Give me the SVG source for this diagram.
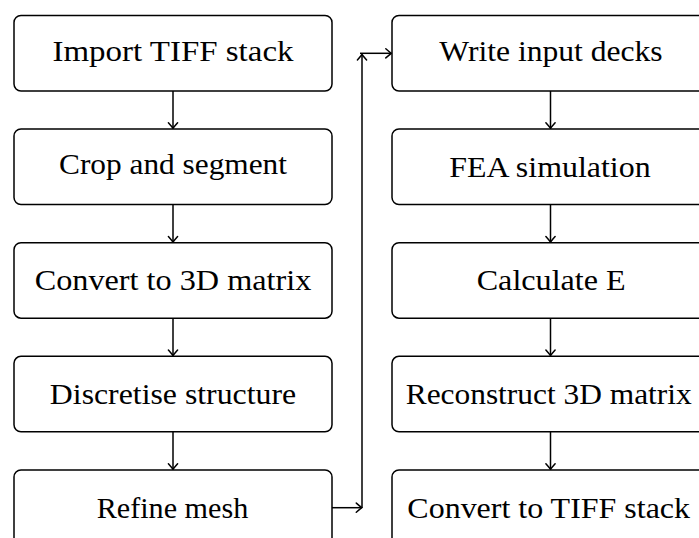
<svg xmlns="http://www.w3.org/2000/svg" width="699" height="538" viewBox="0 0 699 538">
<defs>
<style>
.box{fill:#fff;stroke:#000;stroke-width:1.5}
.lbl{font-size:30px;fill:#000;text-anchor:middle}
.edge{fill:none;stroke:#000;stroke-width:1.5}
</style>
<marker id="ah" viewBox="-7 -6 9 12" markerWidth="9" markerHeight="12" refX="0" refY="0" orient="auto" markerUnits="userSpaceOnUse">
<path d="M-5.5,-4.6 Q-1.6,-1.2 0,0 Q-1.6,1.2 -5.5,4.6" fill="none" stroke="#000" stroke-width="1.5" stroke-linecap="round"/>
</marker>
</defs>
<rect width="699" height="538" fill="#fff"/>
<g id="edges">
<path class="edge" d="M173,90.5V128.3" marker-end="url(#ah)"/>
<path class="edge" d="M173,204.5V242" marker-end="url(#ah)"/>
<path class="edge" d="M173,318V355.6" marker-end="url(#ah)"/>
<path class="edge" d="M173,432V469.3" marker-end="url(#ah)"/>
<path class="edge" d="M332,507.7H361.8" marker-end="url(#ah)"/>
<path class="edge" d="M362,507.7V54.5" marker-end="url(#ah)"/>
<path class="edge" d="M360,53.3H391.3" marker-end="url(#ah)"/>
<path class="edge" d="M550.5,90.5V128.3" marker-end="url(#ah)"/>
<path class="edge" d="M550.5,204.5V242" marker-end="url(#ah)"/>
<path class="edge" d="M550.5,318V355.6" marker-end="url(#ah)"/>
<path class="edge" d="M550.5,432V469.3" marker-end="url(#ah)"/>
</g>
<g font-family="Liberation Serif, serif">
<g id="n1"><rect class="box" x="14" y="15.5" width="318" height="75.5" rx="7"/><text class="lbl" x="173" y="60.5" textLength="241" lengthAdjust="spacingAndGlyphs">Import TIFF stack</text></g>
<g id="n2"><rect class="box" x="14" y="129" width="318" height="75.5" rx="7"/><text class="lbl" x="173" y="173.5" textLength="228" lengthAdjust="spacingAndGlyphs">Crop and segment</text></g>
<g id="n3"><rect class="box" x="14" y="242.7" width="318" height="75.5" rx="7"/><text class="lbl" x="173" y="290.3" textLength="276.5" lengthAdjust="spacingAndGlyphs">Convert to 3D matrix</text></g>
<g id="n4"><rect class="box" x="14" y="356.3" width="318" height="75.5" rx="7"/><text class="lbl" x="173" y="403.8" textLength="246.3" lengthAdjust="spacingAndGlyphs">Discretise structure</text></g>
<g id="n5"><rect class="box" x="14" y="470" width="318" height="75.5" rx="7"/><text class="lbl" x="172.5" y="517.5" textLength="151.6" lengthAdjust="spacingAndGlyphs">Refine mesh</text></g>
<g id="n6"><rect class="box" x="392" y="15.5" width="317" height="75.5" rx="7"/><text class="lbl" x="551" y="60.5" textLength="223.3" lengthAdjust="spacingAndGlyphs">Write input decks</text></g>
<g id="n7"><rect class="box" x="392" y="129" width="317" height="75.5" rx="7"/><text class="lbl" x="550" y="176.7" textLength="201.3" lengthAdjust="spacingAndGlyphs">FEA simulation</text></g>
<g id="n8"><rect class="box" x="392" y="242.7" width="317" height="75.5" rx="7"/><text class="lbl" x="551.2" y="290.3" textLength="149" lengthAdjust="spacingAndGlyphs">Calculate E</text></g>
<g id="n9"><rect class="box" x="392" y="356.3" width="317" height="75.5" rx="7"/><text class="lbl" x="548.7" y="403.8" textLength="286" lengthAdjust="spacingAndGlyphs">Reconstruct 3D matrix</text></g>
<g id="n10"><rect class="box" x="392" y="470" width="317" height="75.5" rx="7"/><text class="lbl" x="548.7" y="517.5" textLength="282.7" lengthAdjust="spacingAndGlyphs">Convert to TIFF stack</text></g>
</g>
</svg>
